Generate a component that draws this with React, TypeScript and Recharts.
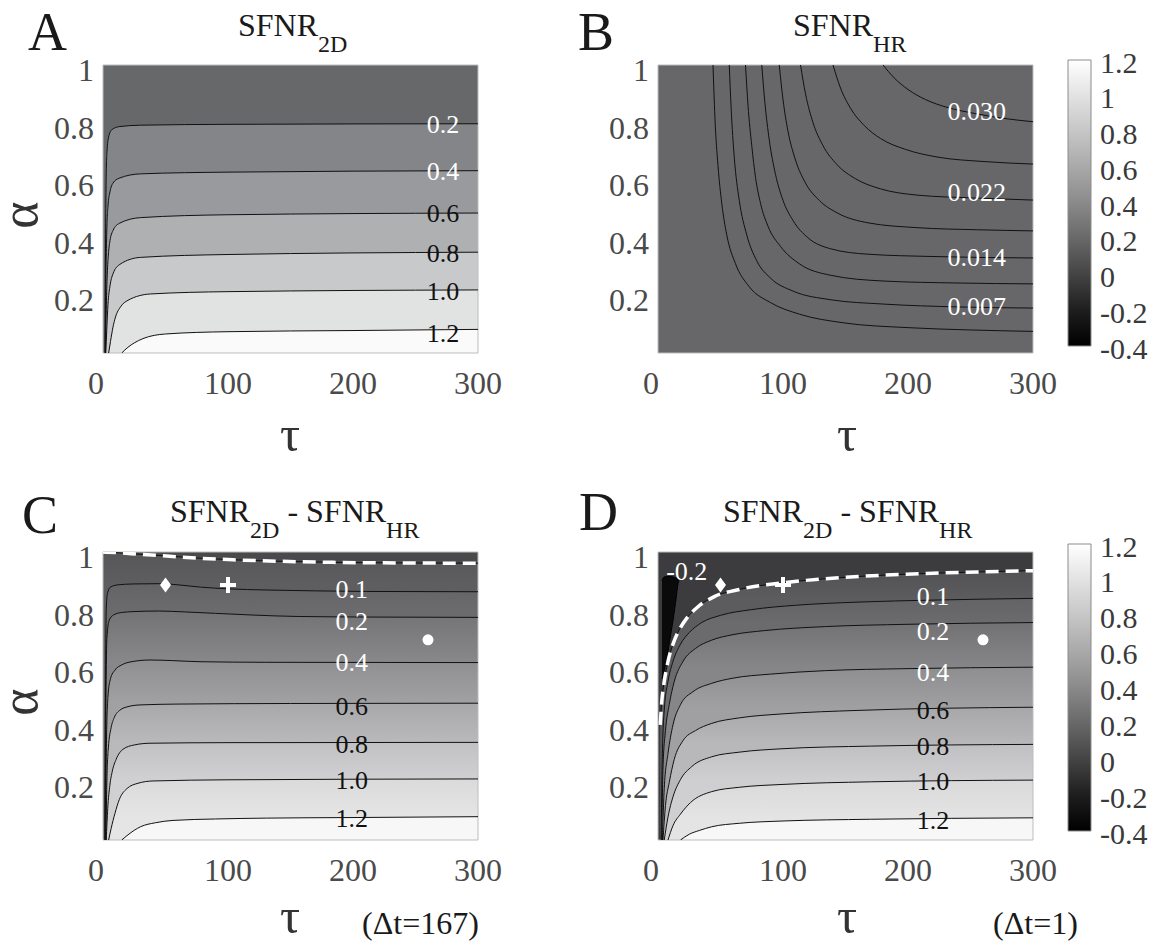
import React from 'react';
import { ComposedChart, Area, Line, Scatter, XAxis, YAxis, ReferenceArea } from 'recharts';

const SERIF = '"Liberation Serif", "Times New Roman", serif';
const TICK_GRAY = '#4a4a4a';
const FRAME = '#bdbdbd';

// Shared axes
const TAU_DOMAIN: [number, number] = [0, 300];
const ALPHA_DOMAIN: [number, number] = [0, 1];
const TAU_TICKS = [0, 100, 200, 300];
const ALPHA_TICKS = [0.2, 0.4, 0.6, 0.8, 1];
const FULL_SPAN = [[0, 1], [300, 1]];

// Colour bar
const CBAR_DOMAIN: [number, number] = [-0.4, 1.2];
const CBAR_TICKS = [1.2, 1, 0.8, 0.6, 0.4, 0.2, 0, -0.2, -0.4];
const CBAR_GRAYS = ['#ffffff', '#e2e2e2', '#c6c6c6', '#a9a9a9', '#8a8a8a', '#686868', '#444444', '#1e1e1e', '#000000'];
const CBAR_SPAN = [[0, 1.2], [1, 1.2]];

// ---------- Panel A: SFNR_2D, contour lines as [tau, alpha] ----------
const A_L02 = [[1.6, 0], [2, 0.35], [2.5, 0.6], [3.2, 0.7], [4.5, 0.75], [7, 0.775], [13, 0.786], [30, 0.791], [100, 0.794], [300, 0.796]];
const A_L04 = [[1.8, 0], [2.3, 0.25], [3, 0.42], [4, 0.51], [5.6, 0.56], [8, 0.59], [13, 0.607], [30, 0.622], [100, 0.628], [300, 0.633]];
const A_L06 = [[2, 0], [2.6, 0.15], [3.3, 0.26], [4.3, 0.34], [5.6, 0.39], [8, 0.425], [13, 0.45], [30, 0.47], [100, 0.48], [300, 0.486]];
const A_L08 = [[2.2, 0], [3, 0.08], [4, 0.17], [5.5, 0.23], [8, 0.275], [13.6, 0.308], [30, 0.332], [100, 0.342], [300, 0.35]];
const A_L10 = [[4.5, 0], [6, 0.04], [8, 0.09], [10, 0.125], [14, 0.16], [20, 0.183], [38, 0.205], [100, 0.213], [300, 0.219]];
const A_L12 = [[15, 0], [20, 0.02], [25, 0.035], [32, 0.05], [50, 0.066], [100, 0.074], [200, 0.078], [300, 0.082]];
const A_LABELS = [[272, 0.792, '0.2'], [272, 0.63, '0.4'], [272, 0.486, '0.6'], [272, 0.347, '0.8'], [272, 0.213, '1.0'], [272, 0.069, '1.2']];

// ---------- Panel B: SFNR_HR ----------
const B_C1 = [[44, 1], [45.5, 0.82], [48, 0.65], [51, 0.52], [55, 0.41], [62, 0.31], [73, 0.23], [90, 0.175], [113, 0.135], [148, 0.105], [200, 0.088], [250, 0.08], [300, 0.075]];
const B_C2 = [[57, 1], [58.5, 0.85], [61, 0.68], [65, 0.53], [71, 0.41], [79, 0.32], [90, 0.26], [108, 0.215], [138, 0.185], [180, 0.17], [240, 0.16], [300, 0.156]];
const B_C3 = [[70, 1], [72, 0.86], [75, 0.72], [78, 0.61], [82, 0.52], [88, 0.44], [98, 0.37], [113, 0.31], [138, 0.27], [180, 0.25], [240, 0.243], [300, 0.24]];
const B_C4 = [[83, 1], [85.5, 0.87], [89, 0.74], [94, 0.62], [100, 0.53], [108, 0.46], [120, 0.4], [138, 0.362], [168, 0.343], [220, 0.335], [300, 0.33]];
const B_C5 = [[97, 1], [100, 0.88], [104, 0.77], [110, 0.67], [118, 0.59], [129, 0.53], [144, 0.485], [168, 0.452], [208, 0.435], [255, 0.428], [300, 0.424]];
const B_C6 = [[114, 1], [118, 0.9], [124, 0.8], [132, 0.72], [143, 0.655], [158, 0.605], [178, 0.57], [208, 0.548], [255, 0.538], [300, 0.531]];
const B_C7 = [[140, 1], [146, 0.92], [154, 0.85], [165, 0.79], [178, 0.745], [198, 0.707], [224, 0.68], [260, 0.665], [300, 0.656]];
const B_C8 = [[180, 1], [189, 0.955], [200, 0.915], [214, 0.88], [232, 0.852], [253, 0.832], [276, 0.815], [300, 0.803]];
const B_LABELS = [[255, 0.837, '0.030'], [255, 0.556, '0.022'], [255, 0.333, '0.014'], [255, 0.163, '0.007']];

// ---------- Panel C: difference, dt = 167 ----------
const C_L00 = [[0, 1], [10, 0.998], [30, 0.992], [51, 0.986], [75, 0.979], [104, 0.973], [140, 0.968], [184, 0.964], [240, 0.962], [300, 0.961]];
const C_L01 = [[1.5, 0], [2, 0.5], [2.6, 0.8], [3.5, 0.855], [6, 0.878], [12, 0.886], [24, 0.889], [45, 0.89], [60, 0.886], [78, 0.878], [100, 0.872], [131, 0.868], [170, 0.865], [211, 0.863], [300, 0.862]];
const C_L02 = [[1.7, 0], [2.3, 0.45], [3.1, 0.7], [5, 0.763], [8.3, 0.781], [15, 0.79], [24, 0.793], [45, 0.795], [65, 0.792], [90, 0.787], [120, 0.781], [157, 0.776], [220, 0.774], [300, 0.773]];
const C_L04 = [[2, 0], [2.8, 0.35], [4, 0.5], [6, 0.56], [9.6, 0.59], [15, 0.608], [21.6, 0.618], [37.6, 0.625], [55, 0.623], [77.6, 0.619], [130, 0.617], [300, 0.616]];
const C_L06 = [[2.3, 0], [3.2, 0.22], [4.3, 0.32], [6.5, 0.39], [9, 0.425], [13.6, 0.451], [20, 0.463], [29.6, 0.469], [60, 0.472], [150, 0.474], [300, 0.475]];
const C_L08 = [[2.6, 0], [3.8, 0.11], [5.5, 0.19], [7.5, 0.24], [10.5, 0.28], [16, 0.315], [25, 0.33], [37.6, 0.336], [100, 0.338], [300, 0.339]];
const C_L10 = [[4.5, 0], [6.5, 0.04], [9.6, 0.093], [13, 0.14], [19, 0.178], [28, 0.197], [40, 0.205], [100, 0.209], [300, 0.212]];
const C_L12 = [[15, 0], [20, 0.018], [30, 0.046], [42, 0.06], [56, 0.068], [90, 0.073], [131, 0.076], [200, 0.078], [300, 0.081]];
const C_LABELS = [[199, 0.871, '0.1'], [199, 0.758, '0.2'], [199, 0.616, '0.4'], [199, 0.465, '0.6'], [199, 0.33, '0.8'], [199, 0.208, '1.0'], [199, 0.076, '1.2']];

// ---------- Panel D: difference, dt = 1 ----------
const D_L00 = [[1.8, 0.4], [3, 0.48], [5, 0.55], [8, 0.62], [12, 0.68], [17, 0.73], [23, 0.77], [32, 0.81], [45, 0.845], [65, 0.87], [100, 0.893], [150, 0.912], [220, 0.926], [300, 0.935]];
const D_L01 = [[2.5, 0], [3.5, 0.3], [5, 0.45], [8, 0.55], [12, 0.62], [18, 0.68], [25, 0.72], [35, 0.755], [50, 0.78], [75, 0.8], [110, 0.815], [160, 0.826], [220, 0.833], [300, 0.839]];
const D_L02 = [[3, 0], [4, 0.25], [6, 0.38], [9, 0.47], [13, 0.55], [20, 0.62], [30, 0.665], [43, 0.694], [60, 0.713], [85, 0.727], [134, 0.741], [200, 0.749], [300, 0.755]];
const D_L04 = [[3.5, 0], [5, 0.18], [8, 0.3], [12, 0.4], [18, 0.47], [28, 0.515], [43, 0.544], [60, 0.562], [90, 0.576], [134, 0.588], [200, 0.595], [300, 0.6]];
const D_L06 = [[4, 0], [6, 0.12], [9, 0.2], [13, 0.28], [20, 0.345], [30, 0.38], [43, 0.405], [65, 0.424], [100, 0.438], [160, 0.45], [300, 0.461]];
const D_L08 = [[5, 0], [8, 0.08], [12, 0.15], [18, 0.21], [27, 0.255], [43, 0.289], [65, 0.305], [100, 0.317], [170, 0.326], [300, 0.332]];
const D_L10 = [[8, 0], [12, 0.05], [18, 0.09], [26, 0.13], [43, 0.168], [65, 0.183], [100, 0.193], [170, 0.202], [300, 0.208]];
const D_L12 = [[18, 0], [25, 0.02], [33, 0.033], [43, 0.046], [65, 0.058], [100, 0.066], [170, 0.072], [300, 0.077]];
// region below -0.2 as [tau, low alpha, high alpha]
const D_NEG = [[3.2, 0.56, 0.9], [4.5, 0.58, 0.912], [7, 0.63, 0.915], [10, 0.71, 0.915], [12.3, 0.77, 0.913], [14.5, 0.84, 0.91], [16, 0.89, 0.906], [16.8, 0.9, 0.902]];
const D_LABELS = [[220, 0.845, '0.1'], [220, 0.723, '0.2'], [220, 0.581, '0.4'], [220, 0.451, '0.6'], [220, 0.324, '0.8'], [220, 0.202, '1.0'], [220, 0.069, '1.2'], [23, 0.932, '-0.2']];

// Operating points marked in C and D
const MARKERS = [[50, 0.885, 'diamond'], [100, 0.885, 'plus'], [260, 0.695, 'dot']];

type Row = (number | string)[];
const toPts = (rows: number[][]) => rows.map(([t, a]) => ({ t, a }));

interface Band { rows: number[][]; top: string; bottom: string }
interface PanelProps {
  id: string;
  left: number; top: number; width: number; height: number;
  margin: { top: number; right: number; bottom: number; left: number };
  background: string;
  bands: Band[];
  contours: number[][][];
  zeroLine?: number[][];
  negRegion?: number[][];
  labels: Row[];
  lightLabels: string[];
  markers?: Row[];
}

function TauTick(props: any) {
  const { x, y, payload } = props;
  const v = payload.value;
  return (
    <text x={x + (v === 0 ? -7 : 0)} y={y + 41} textAnchor="middle" fontFamily={SERIF} fontSize={32} fill={TICK_GRAY}>
      {v}
    </text>
  );
}

function AlphaTick(props: any) {
  const { x, y, payload } = props;
  return (
    <text x={x - 9} y={y + 5} textAnchor="end" dominantBaseline="central" fontFamily={SERIF} fontSize={32} fill={TICK_GRAY}>
      {payload.value}
    </text>
  );
}

function CbarTick(props: any) {
  const { x, y, payload } = props;
  return (
    <text x={x + 9} y={y + 2} textAnchor="start" dominantBaseline="central" fontFamily={SERIF} fontSize={30} fill="#3a3a3a">
      {String(payload.value)}
    </text>
  );
}

function Marker(props: any) {
  const { cx, cy, payload } = props;
  if (payload.kind === 'diamond') {
    return <path d={`M${cx},${cy - 7.5} L${cx + 5.5},${cy} L${cx},${cy + 7.5} L${cx - 5.5},${cy} Z`} fill="#fff" />;
  }
  if (payload.kind === 'plus') {
    return <path d={`M${cx - 8},${cy} H${cx + 8} M${cx},${cy - 8} V${cy + 8}`} stroke="#fff" strokeWidth={4} />;
  }
  return <circle cx={cx} cy={cy} r={5.5} fill="#fff" />;
}

function ContourPanel(p: PanelProps) {
  const bandPts = p.bands.map((b) => toPts(b.rows));
  const peaks = bandPts.map((ps) => Math.max(...ps.map((q) => q.a)));
  const labelData = p.labels.map(([t, a, text]) => ({ t, a, text, light: p.lightLabels.includes(text as string) }));
  const markerData = (p.markers || []).map(([t, a, kind]) => ({ t, a, kind }));
  return (
    <div style={{ position: 'absolute', left: p.left, top: p.top }}>
      <ComposedChart width={p.width} height={p.height} margin={p.margin}>
        <defs>
          {p.bands.map((b, i) => {
            const next = i + 1 < peaks.length ? peaks[i + 1] : 0;
            const f = Math.min(1, Math.max(0.001, (peaks[i] - next) / peaks[i]));
            return (
              <linearGradient key={i} id={`${p.id}-band-${i}`} x1="0" y1="0" x2="0" y2="1">
                <stop offset={0} stopColor={b.top} />
                <stop offset={f} stopColor={b.bottom} />
                <stop offset={1} stopColor={b.bottom} />
              </linearGradient>
            );
          })}
        </defs>
        <XAxis type="number" dataKey="t" domain={TAU_DOMAIN} ticks={TAU_TICKS} interval={0} allowDataOverflow
          height={1} tickSize={0} tickMargin={0} tickLine={false} axisLine={false} tick={(tp: any) => <TauTick {...tp} />} />
        <YAxis type="number" dataKey="a" domain={ALPHA_DOMAIN} ticks={ALPHA_TICKS} interval={0} allowDataOverflow
          width={1} tickSize={0} tickMargin={0} tickLine={false} axisLine={false} tick={(tp: any) => <AlphaTick {...tp} />} />
        <Area data={toPts(FULL_SPAN)} dataKey="a" type="linear" fill={p.background} fillOpacity={1} stroke="none"
          baseValue={0} isAnimationActive={false} dot={false} activeDot={false} />
        {bandPts.map((pts, i) => (
          <Area key={`band-${i}`} data={pts} dataKey="a" type="monotone" fill={`url(#${p.id}-band-${i})`} fillOpacity={1}
            stroke="none" baseValue={0} isAnimationActive={false} dot={false} activeDot={false} />
        ))}
        {p.negRegion && (
          <Area data={p.negRegion.map(([t, lo, hi]) => ({ t, r: [lo, hi] }))} dataKey="r" type="monotone" fill="#0a0a0a"
            fillOpacity={1} stroke="#000" strokeWidth={1} isAnimationActive={false} dot={false} activeDot={false} />
        )}
        <ReferenceArea x1={0} x2={300} y1={0} y2={1} fill="none" fillOpacity={0} stroke={FRAME} strokeWidth={1} />
        {p.contours.map((rows, i) => (
          <Line key={`c-${i}`} data={toPts(rows)} dataKey="a" type="monotone" stroke="#111" strokeWidth={1}
            dot={false} activeDot={false} isAnimationActive={false} />
        ))}
        {p.zeroLine && (
          <Line data={toPts(p.zeroLine)} dataKey="a" type="monotone" stroke="#111" strokeWidth={1}
            dot={false} activeDot={false} isAnimationActive={false} />
        )}
        {p.zeroLine && (
          <Line data={toPts(p.zeroLine)} dataKey="a" type="monotone" stroke="#ffffff" strokeWidth={3.5}
            strokeDasharray="13 7" dot={false} activeDot={false} isAnimationActive={false} />
        )}
        {markerData.length > 0 && (
          <Scatter data={markerData} dataKey="a" isAnimationActive={false} shape={(sp: any) => <Marker {...sp} />} />
        )}
        <Scatter data={labelData} dataKey="a" isAnimationActive={false}
          shape={(sp: any) => (
            <text x={sp.cx} y={sp.cy} textAnchor="middle" dominantBaseline="central" fontFamily={SERIF} fontSize={26}
              fill={sp.payload.light ? '#ffffff' : '#111111'}>
              {sp.payload.text}
            </text>
          )} />
      </ComposedChart>
    </div>
  );
}

function ColorBar({ id, left, top, marginTop, marginBottom }: { id: string; left: number; top: number; marginTop: number; marginBottom: number }) {
  return (
    <div style={{ position: 'absolute', left, top }}>
      <ComposedChart width={113} height={340} margin={{ top: marginTop, bottom: marginBottom, left: 28, right: 61 }}>
        <defs>
          <linearGradient id={`${id}-cbar`} x1="0" y1="0" x2="0" y2="1">
            {CBAR_GRAYS.map((c, i) => (
              <stop key={i} offset={i / (CBAR_GRAYS.length - 1)} stopColor={c} />
            ))}
          </linearGradient>
        </defs>
        <XAxis type="number" dataKey="x" domain={[0, 1]} height={1} tick={false} tickLine={false} axisLine={false} />
        <YAxis type="number" dataKey="v" orientation="right" domain={CBAR_DOMAIN} ticks={CBAR_TICKS} interval={0} width={1}
          allowDataOverflow tickSize={0} tickMargin={0} tickLine={false} axisLine={false} tick={(tp: any) => <CbarTick {...tp} />} />
        <Area data={CBAR_SPAN.map(([x, v]) => ({ x, v }))} dataKey="v" type="linear" baseValue={-0.4}
          fill={`url(#${id}-cbar)`} fillOpacity={1} stroke="none" isAnimationActive={false} dot={false} activeDot={false} />
        <ReferenceArea x1={0} x2={1} y1={-0.4} y2={1.2} fill="none" fillOpacity={0} stroke="#8c8c8c" strokeWidth={1} />
      </ComposedChart>
    </div>
  );
}

const TOP_MARGIN_L = { top: 65, left: 102, right: 82, bottom: 116 };
const TOP_MARGIN_R = { top: 65, left: 102, right: 120, bottom: 116 };
const BOT_MARGIN_L = { top: 82, left: 102, right: 82, bottom: 104 };
const BOT_MARGIN_R = { top: 82, left: 102, right: 120, bottom: 104 };

function Title({ x, y, parts }: { x: number; y: number; parts: [string, string][] }) {
  return (
    <text x={x} y={y} fontFamily={SERIF} fontSize={32} fill="#1a1a1a">
      {parts.map(([main, sub], i) => (
        <React.Fragment key={i}>
          <tspan dy={i === 0 ? 0 : -16} fontSize={32}>{(i > 0 ? ' - ' : '') + main}</tspan>
          <tspan dy={16} fontSize={24}>{sub}</tspan>
        </React.Fragment>
      ))}
    </text>
  );
}

function AlphaLabel({ x, y }: { x: number; y: number }) {
  return (
    <text x={x} y={y} dy="0.23em" textAnchor="middle" fontFamily={SERIF} fontSize={52} fill="#333"
      transform={`rotate(-90 ${x} ${y})`}>
      α
    </text>
  );
}

export default function App() {
  return (
    <div style={{ position: 'absolute', left: 0, top: 0, width: 1153, height: 945, background: '#ffffff', overflow: 'hidden' }}>
      <ContourPanel
        id="pa" left={0} top={0} width={560} height={470} margin={TOP_MARGIN_L}
        background="#67686a"
        bands={[
          { rows: A_L02, top: '#848588', bottom: '#848588' },
          { rows: A_L04, top: '#999a9d', bottom: '#999a9d' },
          { rows: A_L06, top: '#afb0b2', bottom: '#afb0b2' },
          { rows: A_L08, top: '#c8c9cb', bottom: '#c8c9cb' },
          { rows: A_L10, top: '#e1e2e2', bottom: '#e1e2e2' },
          { rows: A_L12, top: '#fafafa', bottom: '#fafafa' },
        ]}
        contours={[A_L02, A_L04, A_L06, A_L08, A_L10, A_L12]}
        labels={A_LABELS} lightLabels={['0.2', '0.4']}
      />
      <ContourPanel
        id="pb" left={555} top={0} width={598} height={470} margin={TOP_MARGIN_R}
        background="#67676a"
        bands={[]}
        contours={[B_C1, B_C2, B_C3, B_C4, B_C5, B_C6, B_C7, B_C8]}
        labels={B_LABELS} lightLabels={['0.030', '0.022', '0.014', '0.007']}
      />
      <ContourPanel
        id="pc" left={0} top={470} width={560} height={475} margin={BOT_MARGIN_L}
        background="#4a4a4c"
        bands={[
          { rows: C_L00, top: '#565658', bottom: '#5e5e60' },
          { rows: C_L01, top: '#646466', bottom: '#6b6b6d' },
          { rows: C_L02, top: '#737375', bottom: '#878789' },
          { rows: C_L04, top: '#8f8f91', bottom: '#a1a1a3' },
          { rows: C_L06, top: '#a8a8aa', bottom: '#b9b9bb' },
          { rows: C_L08, top: '#c1c1c3', bottom: '#d0d0d2' },
          { rows: C_L10, top: '#dadadb', bottom: '#e5e5e6' },
          { rows: C_L12, top: '#f7f7f7', bottom: '#f7f7f7' },
        ]}
        contours={[C_L01, C_L02, C_L04, C_L06, C_L08, C_L10, C_L12]}
        zeroLine={C_L00}
        labels={C_LABELS} lightLabels={['0.1', '0.2', '0.4']}
        markers={MARKERS}
      />
      <ContourPanel
        id="pd" left={555} top={470} width={598} height={475} margin={BOT_MARGIN_R}
        background="#3c3c3e"
        bands={[
          { rows: D_L00, top: '#525254', bottom: '#5c5c5e' },
          { rows: D_L01, top: '#636365', bottom: '#6b6b6d' },
          { rows: D_L02, top: '#727274', bottom: '#868688' },
          { rows: D_L04, top: '#8e8e90', bottom: '#a0a0a2' },
          { rows: D_L06, top: '#a7a7a9', bottom: '#b8b8ba' },
          { rows: D_L08, top: '#c0c0c2', bottom: '#cfcfd1' },
          { rows: D_L10, top: '#d9d9da', bottom: '#e4e4e5' },
          { rows: D_L12, top: '#f7f7f7', bottom: '#f7f7f7' },
        ]}
        contours={[D_L01, D_L02, D_L04, D_L06, D_L08, D_L10, D_L12]}
        zeroLine={D_L00}
        negRegion={D_NEG}
        labels={D_LABELS} lightLabels={['0.1', '0.2', '0.4', '-0.2']}
        markers={MARKERS}
      />
      <ColorBar id="cb1" left={1040} top={30} marginTop={30} marginBottom={23} />
      <ColorBar id="cb2" left={1040} top={514} marginTop={30} marginBottom={22} />

      <svg width={1153} height={945} style={{ position: 'absolute', left: 0, top: 0, pointerEvents: 'none' }}>
        <g fontFamily={SERIF} fill="#1a1a1a">
          <text x={28} y={50} fontSize={54}>A</text>
          <text x={578} y={50} fontSize={54}>B</text>
          <text x={22} y={533} fontSize={54}>C</text>
          <text x={579} y={530} fontSize={54}>D</text>
        </g>
        <Title x={238} y={36} parts={[['SFNR', '2D']]} />
        <Title x={793} y={36} parts={[['SFNR', 'HR']]} />
        <Title x={170} y={522} parts={[['SFNR', '2D'], ['SFNR', 'HR']]} />
        <Title x={723} y={522} parts={[['SFNR', '2D'], ['SFNR', 'HR']]} />
        <g fontFamily={SERIF} fill="#333" fontSize={50} textAnchor="middle">
          <text x={290} y={451}>τ</text>
          <text x={847} y={451}>τ</text>
          <text x={290} y={933}>τ</text>
          <text x={847} y={933}>τ</text>
        </g>
        <AlphaLabel x={25} y={215} />
        <AlphaLabel x={25} y={702} />
        <g fontFamily={SERIF} fill="#1a1a1a" fontSize={32}>
          <text x={362} y={934}>(Δt=167)</text>
          <text x={993} y={934}>(Δt=1)</text>
        </g>
      </svg>
    </div>
  );
}
